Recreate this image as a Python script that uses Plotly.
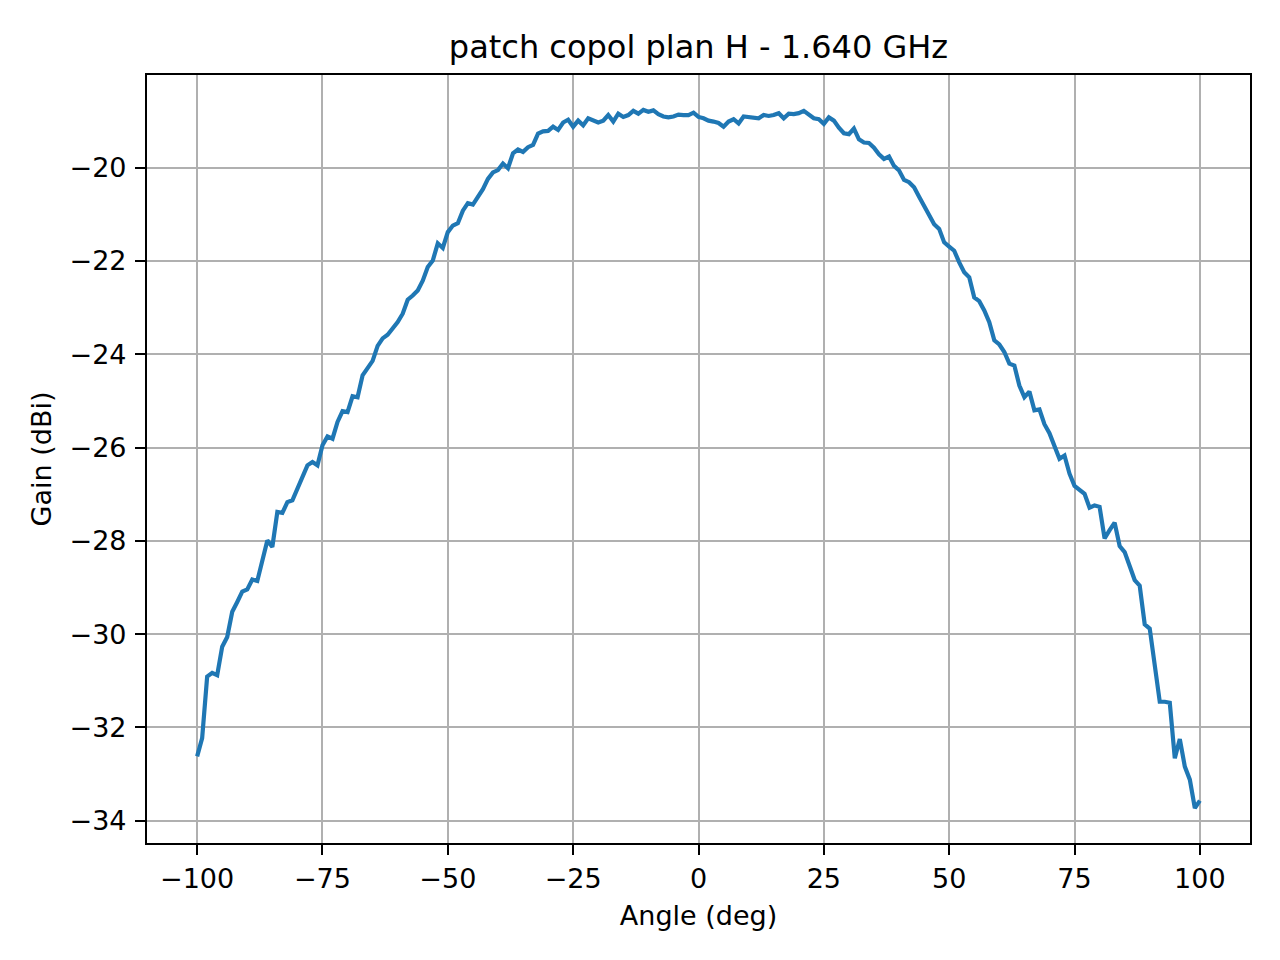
import plotly.graph_objects as go

# Measured H-plane copol pattern, 1 degree steps
angle = list(range(-100, 101))
gain = [
    # -100 .. -81
    -32.62, -32.23, -30.91, -30.83, -30.88, -30.27, -30.06, -29.52, -29.31, -29.09,
    -29.04, -28.83, -28.86, -28.41, -27.99, -28.13, -27.38, -27.40, -27.17, -27.13,
    # -80 .. -61
    -26.88, -26.59, -26.38, -26.31, -26.38, -25.95, -25.76, -25.81, -25.45, -25.22,
    -25.24, -24.90, -24.92, -24.45, -24.28, -24.14, -23.82, -23.66, -23.58, -23.45,
    # -60 .. -41
    -23.31, -23.13, -22.83, -22.74, -22.63, -22.42, -22.13, -21.99, -21.62, -21.72,
    -21.38, -21.24, -21.19, -20.92, -20.76, -20.79, -20.62, -20.46, -20.24, -20.10,
    # -40 .. -21
    -20.05, -19.91, -20.01, -19.69, -19.61, -19.66, -19.56, -19.51, -19.27, -19.22,
    -19.21, -19.12, -19.19, -19.03, -18.97, -19.12, -18.99, -19.09, -18.94, -18.98,
    # -20 .. -1
    -19.03, -18.99, -18.87, -19.01, -18.84, -18.91, -18.87, -18.78, -18.84, -18.76,
    -18.80, -18.77, -18.85, -18.90, -18.92, -18.90, -18.86, -18.87, -18.87, -18.82,
    # 0 .. 19
    -18.91, -18.94, -18.99, -19.01, -19.04, -19.12, -19.01, -18.96, -19.05, -18.90,
    -18.91, -18.94, -18.94, -18.87, -18.89, -18.87, -18.83, -18.94, -18.84, -18.85,
    # 20 .. 39
    -18.83, -18.78, -18.87, -18.94, -18.96, -19.06, -18.92, -18.99, -19.14, -19.26,
    -19.28, -19.16, -19.39, -19.46, -19.47, -19.57, -19.71, -19.81, -19.76, -19.96,
    # 40 .. 59
    -20.06, -20.26, -20.31, -20.42, -20.62, -20.83, -21.03, -21.21, -21.31, -21.60,
    -21.69, -21.78, -22.03, -22.24, -22.35, -22.78, -22.86, -23.06, -23.31, -23.70,
    # 60 .. 79
    -23.79, -23.95, -24.20, -24.24, -24.67, -24.92, -24.80, -25.20, -25.18, -25.50,
    -25.69, -25.95, -26.24, -26.17, -26.56, -26.82, -26.90, -26.99, -27.29, -27.24,
    # 80 .. 100
    -27.27, -27.95, -27.77, -27.61, -28.11, -28.24, -28.54, -28.84, -28.96, -29.79,
    -29.88, -30.61, -31.45, -31.45, -31.47, -32.66, -32.25, -32.84, -33.12, -33.73,
    -33.57,
]

x_ticks = [-100, -75, -50, -25, 0, 25, 50, 75, 100]
x_labels = ["\u2212100", "\u221275", "\u221250", "\u221225", "0", "25", "50", "75", "100"]
y_ticks = [-34, -32, -30, -28, -26, -24, -22, -20]
y_labels = ["\u221234", "\u221232", "\u221230", "\u221228", "\u221226", "\u221224", "\u221222", "\u221220"]

# matplotlib-style 5% margins
xspan = max(angle) - min(angle)
yspan = max(gain) - min(gain)
xr = [min(angle) - 0.05 * xspan, max(angle) + 0.05 * xspan]
yr = [min(gain) - 0.05 * yspan, max(gain) + 0.05 * yspan]

fig = go.Figure()
fig.add_trace(go.Scatter(x=angle, y=gain, mode="lines",
                         line=dict(color="#1f77b4", width=4.2)))

axis_style = dict(
    showline=True, linecolor="black", linewidth=2.2, mirror=True,
    showgrid=True, gridcolor="#b0b0b0", gridwidth=2.2, zeroline=False,
    ticks="outside", ticklen=10, tickwidth=2.2, tickcolor="black",
    tickfont=dict(size=27, color="black"), tickmode="array",
)

fig.update_xaxes(range=xr, tickvals=x_ticks, ticktext=x_labels,
                 title=dict(text="Angle (deg)", font=dict(size=27, color="black"), standoff=14),
                 ticklabelstandoff=0, **axis_style)
fig.update_yaxes(range=yr, tickvals=y_ticks, ticktext=y_labels,
                 title=dict(text="Gain (dBi)", font=dict(size=27, color="black"), standoff=10),
                 ticklabelstandoff=3, **axis_style)

# page body adds ~8px offset, so margins are shifted to compensate
fig.update_layout(
    width=1280, height=960,
    margin=dict(l=139, r=38, t=67, b=125),
    paper_bgcolor="white", plot_bgcolor="white",
    font=dict(family="DejaVu Sans", color="black"),
    showlegend=False,
    title=dict(text="patch copol plan H - 1.640 GHz", font=dict(size=32, color="black"),
               x=0.5, xref="paper", y=1 - 39 / 960, yref="container", yanchor="middle"),
)

fig.write_html("out.html")
